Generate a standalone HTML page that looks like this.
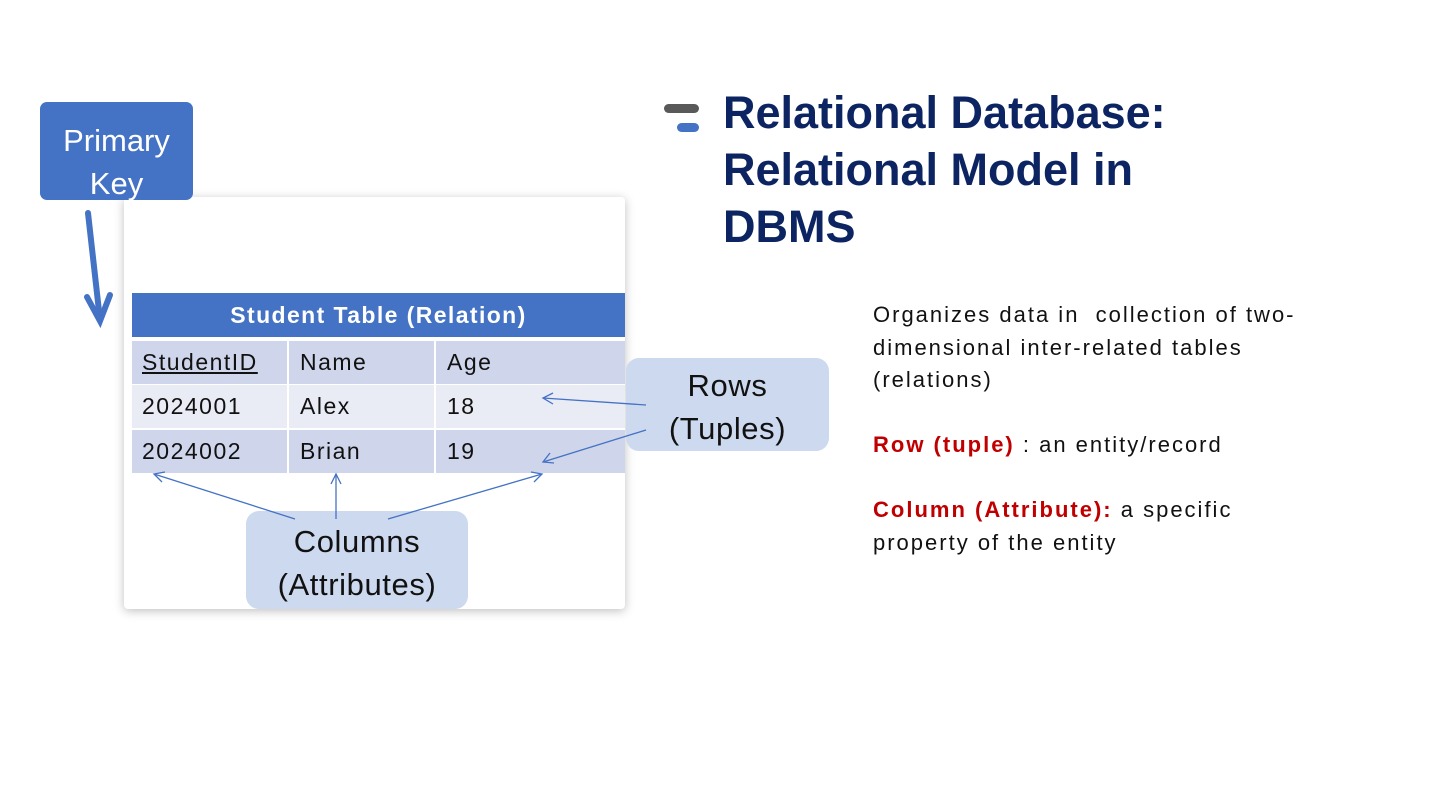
<!DOCTYPE html>
<html><head><meta charset="utf-8"><style>
body{margin:0;width:1440px;height:810px;background:#fff;position:relative;overflow:hidden;font-family:"Liberation Sans","Noto Sans CJK SC",sans-serif;}
.a{position:absolute}
.pk{left:40px;top:102px;width:153px;height:98px;background:#4472c4;border-radius:7px;color:#fff;font-size:31px;text-align:center;line-height:43px;padding-top:17px;box-sizing:border-box}
.card{left:124px;top:197px;width:501px;height:412px;background:#fff;border-radius:4px;box-shadow:0 2px 10px rgba(0,0,0,.25)}
.th{left:132px;top:293px;width:493px;height:44px;background:#4472c4;color:#fff;font-weight:bold;font-size:23px;text-align:center;line-height:44px;letter-spacing:1.4px}
.r{left:132px;width:493px;height:43px;font-size:23px;line-height:43px;color:#111;letter-spacing:1.5px}
.r span{position:absolute;top:0}
.d{background:#cfd5ea}.l{background:#e9ebf5}
.v{position:absolute;top:0;width:2px;height:100%;background:#fff}
.bub{background:#cdd9ee;border-radius:13px;color:#111;font-size:31px;text-align:center;line-height:43px;box-sizing:border-box;letter-spacing:0.6px}
.t{left:723px;top:84px;color:#0c2461;font-weight:bold;font-size:45px;line-height:57px}
.b{left:873px;font-size:22px;line-height:32.5px;color:#111;letter-spacing:2px;white-space:nowrap}
.red{color:#c00000;font-weight:bold}
</style></head><body>
<div class="a card"></div>
<div class="a pk">Primary<br>Key</div>
<div class="a th">Student Table (Relation)</div>
<div class="a r d" style="top:341px"><span style="left:10px;text-decoration:underline">StudentID</span><span style="left:168px">Name</span><span style="left:315px">Age</span><div class="v" style="left:155px"></div><div class="v" style="left:302px"></div></div>
<div class="a r l" style="top:385px"><span style="left:10px">2024001</span><span style="left:168px">Alex</span><span style="left:315px">18</span><div class="v" style="left:155px"></div><div class="v" style="left:302px"></div></div>
<div class="a r d" style="top:430px"><span style="left:10px">2024002</span><span style="left:168px">Brian</span><span style="left:315px">19</span><div class="v" style="left:155px"></div><div class="v" style="left:302px"></div></div>
<div class="a bub" style="left:626px;top:358px;width:203px;height:93px;padding-top:6px">Rows<br>(Tuples)</div>
<div class="a bub" style="left:246px;top:511px;width:222px;height:98px;padding-top:9px">Columns<br>(Attributes)</div>
<svg class="a" style="left:0;top:0" width="1440" height="810">
<g stroke="#4472c4" stroke-width="1.3" fill="none">
<line x1="646" y1="405" x2="543" y2="398"/><polyline points="553,393 543,398 553,404"/>
<line x1="646" y1="430" x2="543" y2="462"/><polyline points="550,453 543,462 554,463"/>
<line x1="295" y1="519" x2="154" y2="474"/><polyline points="165,472 154,474 162,482"/>
<line x1="336" y1="519" x2="336" y2="474"/><polyline points="331,484 336,474 341,484"/>
<line x1="388" y1="519" x2="542" y2="474"/><polyline points="531,472 542,474 534,482"/>
</g>
<g stroke="#4472c4" stroke-width="6" fill="none" stroke-linecap="round">
<line x1="88" y1="213" x2="100" y2="320"/><polyline points="87,297 100,321 110,295"/>
</g>
<rect x="664" y="104" width="35" height="9" rx="4.5" fill="#595959"/>
<rect x="677" y="123" width="22" height="9" rx="4.5" fill="#4472c4"/>
</svg>
<div class="a t">Relational Database:<br>Relational Model in<br>DBMS</div>
<div class="a b" style="top:299px">Organizes data in&nbsp; collection of two-<br>dimensional inter-related tables<br>(relations)</div>
<div class="a b" style="top:429px"><span class="red">Row (tuple)</span> : an entity/record</div>
<div class="a b" style="top:494px"><span class="red">Column (Attribute):</span> a specific<br>property of the entity</div>
</body></html>
